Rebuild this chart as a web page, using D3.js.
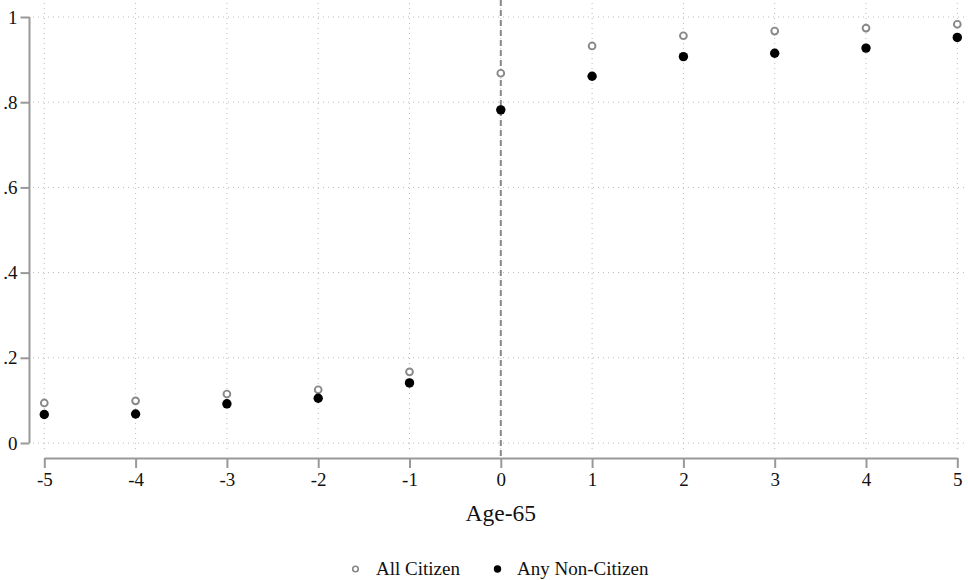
<!DOCTYPE html>
<meta charset="utf-8">
<style>
body { margin: 0; background: #fff; }
text { font-family: "Liberation Serif", "Times New Roman", serif; fill: #111; }
.grid line { stroke: #bbb; stroke-width: 1; stroke-dasharray: 1 4; }
.axis path, .axis line { stroke: #999; stroke-width: 2; }
</style>
<body>
<script src="https://d3js.org/d3.v7.min.js"></script>
<script>

// data
var ages = [-5, -4, -3, -2, -1, 0, 1, 2, 3, 4, 5];
var allCitizen = [0.094, 0.099, 0.115, 0.125, 0.167, 0.868, 0.932, 0.956, 0.967, 0.974, 0.983];
var nonCitizen = [0.067, 0.068, 0.092, 0.105, 0.141, 0.782, 0.861, 0.907, 0.915, 0.927, 0.952];
var yTicks = [0, 0.2, 0.4, 0.6, 0.8, 1];
var yLabels = ["0", ".2", ".4", ".6", ".8", "1"];

var width = 968, height = 580;

var x = d3.scaleLinear().domain([-5, 5]).range([44.3, 957.3]);
var y = d3.scaleLinear().domain([0, 1]).range([443, 17]);

var svg = d3.select("body").append("svg")
    .attr("width", width)
    .attr("height", height);

// dotted grid
var grid = svg.append("g").attr("class", "grid");
grid.selectAll(".h").data(yTicks).enter().append("line")
    .attr("x1", 33).attr("x2", 968)
    .attr("y1", function(d) { return y(d); })
    .attr("y2", function(d) { return y(d); });
grid.selectAll(".v").data(ages).enter().append("line")
    .attr("x1", function(d) { return x(d); })
    .attr("x2", function(d) { return x(d); })
    .attr("y1", 3).attr("y2", 453);

// y axis
var yAxis = svg.append("g")
    .attr("class", "axis")
    .attr("transform", "translate(29.5,0)")
    .call(d3.axisLeft(y).tickValues(yTicks)
      .tickFormat(function(d, i) { return yLabels[i]; })
      .tickSize(9).tickSizeOuter(0).tickPadding(3));
yAxis.select(".domain").attr("d", "M0," + y(1) + "V" + y(0));
yAxis.selectAll("text").style("font-size", "19px").attr("font-family", null);

// x axis, plain hyphen for negatives like the original
var xAxis = svg.append("g")
    .attr("class", "axis")
    .attr("transform", "translate(0,458)")
    .call(d3.axisBottom(x).tickValues(ages)
      .tickFormat(function(d) { return String(d); })
      .tickSize(10).tickSizeOuter(0).tickPadding(5));
xAxis.selectAll("text").style("font-size", "19px").attr("font-family", null);

svg.append("text")
    .attr("x", x(0))
    .attr("y", 521)
    .attr("text-anchor", "middle")
    .style("font-size", "23.5px")
    .text("Age-65");

// cutoff line at 0
svg.append("line")
    .attr("x1", x(0)).attr("x2", x(0))
    .attr("y1", 0).attr("y2", 458)
    .style("stroke", "#888")
    .style("stroke-width", 2)
    .style("stroke-dasharray", "6 4");

// points
svg.selectAll(".all").data(ages).enter().append("circle")
    .attr("cx", function(d) { return x(d); })
    .attr("cy", function(d, i) { return y(allCitizen[i]); })
    .attr("r", 3.4)
    .style("fill", "#fff")
    .style("stroke", "#888")
    .style("stroke-width", 1.9);

svg.selectAll(".non").data(ages).enter().append("circle")
    .attr("cx", function(d) { return x(d); })
    .attr("cy", function(d, i) { return y(nonCitizen[i]); })
    .attr("r", 4.7)
    .style("fill", "#000");

// legend
var legend = svg.append("g");
legend.append("circle").attr("cx", 355.5).attr("cy", 569)
    .attr("r", 2.8).style("fill", "#fff").style("stroke", "#888").style("stroke-width", 1.6);
legend.append("text").attr("x", 376).attr("y", 575).style("font-size", "19px").text("All Citizen");
legend.append("circle").attr("cx", 497.5).attr("cy", 569)
    .attr("r", 3.7).style("fill", "#000");
legend.append("text").attr("x", 517).attr("y", 575).style("font-size", "19px").text("Any Non-Citizen");

</script>
</body>
